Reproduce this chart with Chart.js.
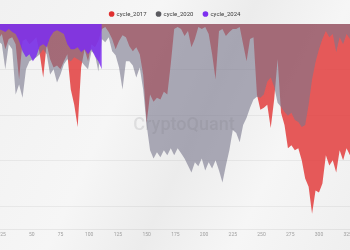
<!DOCTYPE html>
<html>
<head>
<meta charset="utf-8">
<script src="https://cdn.jsdelivr.net/npm/chart.js@4.4.1/dist/chart.umd.min.js"></script>
<style>
  html, body { margin: 0; padding: 0; }
  body {
    width: 350px; height: 250px; overflow: hidden;
    background: linear-gradient(115deg, #f1f1f1 0%, #f6f6f6 35%, #ececec 55%, #f6f6f6 75%, #efefef 100%);
  }
  #wrap { position: relative; width: 350px; height: 250px; overflow: hidden; }
  #wrap canvas { position: absolute; left: -15px; top: 0; }
</style>
</head>
<body>
<div id="wrap"><canvas id="myChart" width="380" height="250"></canvas></div>
<script>
// days since cycle start (x axis)
const days = [9,12,15,18,21,24,27,30,33,36,39,42,45,48,51,54,57,60,63,66,69,72,75,78,81,84,87,90,93,96,
  99,102,105,108,111,114,117,120,123,126,129,132,135,138,141,144,147,150,153,156,159,162,165,168,171,174,177,180,183,186,
  189,192,195,198,201,204,207,210,213,216,219,222,225,228,231,234,237,240,243,246,249,252,255,258,261,264,267,270,273,276,
  279,282,285,288,291,294,297,300,303,306,309,312,315,318,321,324,327,330,333,336,339,342];

// drawdown from ATH (%)
const cycle2017 = [-6.6,-4.4,-8.9,-5.8,-6.6,-4.4,-11.1,-6.6,-5.8,-8.9,
  -24.4,-7.5,-6.6,-8.9,-7.5,-5.8,-13.3,-23.5,-8.9,-15.5,
  -19.1,-18.2,-19.9,-16.4,-13.3,-28.8,-35.5,-45.2,-19.1,-11.1,
  -16.4,-8.9,-10.2,-7.5,-2.2,-1.3,-3.5,-6.6,-11.1,-7.5,
  -4.9,-5.8,-9.8,-12.0,-10.2,-13.3,-22.2,-43.4,-31.0,-34.1,
  -32.4,-33.2,-29.7,-31.0,-17.7,-2.2,-1.3,-2.2,-5.3,-3.1,
  -10.2,-6.6,-1.3,-2.2,-1.3,-4.4,-13.3,-24.4,-3.1,-2.2,
  -5.3,-3.5,-2.2,-2.2,-1.3,-8.9,-16.4,-6.6,-5.8,-31.0,
  -37.7,-36.8,-35.5,-45.7,-33.2,-15.5,-39.0,-44.3,-54.5,-53.2,
  -55.4,-54.5,-59.8,-67.8,-71.4,-83.3,-73.1,-74.0,-70.0,-57.6,
  -62.1,-59.8,-65.2,-55.4,-59.8,-54.5,-57.6,-59.0,-55.4,-57.6,
  -54.5,-55.4];

const cycle2020 = [-11.1,-15.5,-8.9,-13.3,-7.5,-8.9,-19.9,-8.9,-11.1,-31.0,
  -26.6,-32.4,-19.9,-16.4,-15.5,-14.6,-13.3,-11.1,-13.3,-22.2,
  -19.9,-25.7,-22.2,-17.7,-15.5,-16.4,-14.6,-15.5,-16.4,-18.2,
  -19.9,-12.0,-13.3,-20.8,-6.6,-8.0,-5.8,-12.0,-13.7,-19.1,
  -28.8,-16.4,-16.4,-18.2,-23.5,-19.1,-28.8,-44.3,-55.4,-59.0,
  -56.3,-58.5,-55.4,-57.6,-54.5,-57.6,-54.5,-56.7,-59.0,-62.1,
  -65.2,-60.7,-62.5,-59.0,-64.3,-60.7,-63.4,-59.8,-64.3,-69.6,
  -62.1,-55.4,-46.5,-47.9,-51.9,-44.3,-41.2,-36.8,-33.2,-31.9,
  -32.4,-31.0,-25.3,-23.5,-27.5,-34.6,-36.4,-38.6,-40.3,-39.0,
  -42.1,-43.0,-45.2,-44.3,-35.5,-24.4,-16.8,-11.1,-6.6,-3.1,
  -5.8,-4.4,-12.4,-5.8,-8.9,-4.4,-6.6,-5.8,-7.5,-4.9,
  -6.6,-5.8];

const cycle2024 = [-2.2,-3.1,-2.2,-3.5,-2.2,-2.7,-3.5,-2.2,-3.5,-4.4,
  -7.5,-12.0,-14.6,-13.3,-16.4,-14.2,-9.8,-8.9,-10.2,-5.8,
  -3.5,-2.7,-3.5,-4.4,-8.9,-11.1,-11.1,-10.2,-12.4,-11.1,
  -13.3,-11.1,-14.2,-16.4,-19.9];

const xTicks = [25, 50, 75, 100, 125, 150, 175, 200, 225, 250, 275, 300, 325];
const yGrid = [-80, -60, -40, -20, 0];

const legendColors = ['#e0302f', '#5b5b60', '#7d2ff0'];

// faint brand watermark in the middle of the plot
const watermark = {
    id: 'watermark',
    afterDatasetsDraw(chart) {
        const {ctx, chartArea: a} = chart;
        ctx.save();
        ctx.font = '500 18px Roboto, sans-serif';
        ctx.fillStyle = 'rgba(110,110,120,0.16)';
        ctx.textAlign = 'center';
        ctx.textBaseline = 'middle';
        ctx.fillText('CryptoQuant', (a.left + a.right) / 2 + 9, 125);
        ctx.restore();
    }
};

// pull the plot a little closer to the legend
const legendGap = {
    id: 'legendGap',
    beforeLayout(chart) {
        const legend = chart.legend;
        if (!legend || legend._gapPatched) return;
        const fit = legend.fit;
        legend.fit = function () {
            fit.call(this);
            this.height -= 3;
        };
        legend._gapPatched = true;
    }
};

const ctx = document.getElementById('myChart');

new Chart(ctx, {
    type: 'line',
    data: {
        labels: days,
        datasets: [
            {
                label: 'cycle_2017',
                data: cycle2017,
                backgroundColor: 'rgba(225,50,50,0.8)',
                borderColor: 'rgba(0,0,0,0)',
                borderWidth: 1,
                fill: 'origin',
                pointRadius: 0,
                order: 3
            },
            {
                label: 'cycle_2020',
                data: cycle2020,
                backgroundColor: 'rgba(120,118,140,0.6)',
                borderColor: 'rgba(0,0,0,0)',
                borderWidth: 1,
                fill: 'origin',
                pointRadius: 0,
                order: 2
            },
            {
                label: 'cycle_2024',
                data: cycle2024,
                backgroundColor: 'rgba(125,45,240,0.85)',
                borderColor: 'rgba(0,0,0,0)',
                borderWidth: 1,
                fill: 'origin',
                pointRadius: 0,
                order: 1
            }
        ]
    },
    options: {
        animation: false,
        responsive: false,
        layout: { padding: { top: 1, bottom: 9, left: 0, right: 0 } },
        plugins: {
            legend: {
                position: 'top',
                labels: {
                    usePointStyle: true,
                    pointStyle: 'circle',
                    boxWidth: 4,
                    boxHeight: 4,
                    padding: 10,
                    color: '#3a3a3a',
                    font: { size: 6, family: 'Roboto' },
                    sort: (a, b) => a.datasetIndex - b.datasetIndex,
                    generateLabels: chart => Chart.defaults.plugins.legend.labels.generateLabels(chart).map(item => {
                        item.fillStyle = legendColors[item.datasetIndex];
                        item.strokeStyle = legendColors[item.datasetIndex];
                        item.lineWidth = 0;
                        return item;
                    })
                }
            },
            tooltip: { enabled: false }
        },
        scales: {
            x: {
                type: 'linear',
                min: 9.33,
                max: 340.06,
                grid: { display: false, drawTicks: false },
                border: { display: true, color: 'rgba(0,0,0,0.06)' },
                afterBuildTicks: scale => { scale.ticks = xTicks.map(v => ({ value: v })); },
                ticks: {
                    font: { size: 5, family: 'Roboto' },
                    color: '#a0a0a0',
                    padding: 3,
                    maxRotation: 0,
                    autoSkip: false
                }
            },
            y: {
                min: -90,
                max: 0,
                position: 'right',
                ticks: { display: false },
                grid: { color: 'rgba(0,0,0,0.05)', drawTicks: false },
                border: { display: false },
                afterBuildTicks: scale => { scale.ticks = yGrid.map(v => ({ value: v })); }
            }
        }
    },
    plugins: [watermark, legendGap]
});
</script>
</body>
</html>
